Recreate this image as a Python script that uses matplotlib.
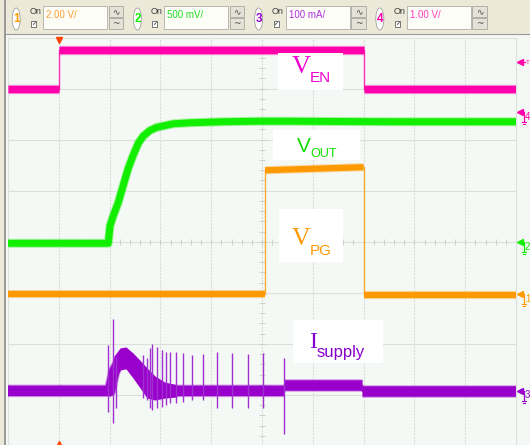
import matplotlib
matplotlib.use('Agg')
import matplotlib.pyplot as plt
from matplotlib.patches import Rectangle, Ellipse
import numpy as np

# scope screen: 10 x 8 divisions, all trace values below are in divisions
en_t = [0, 1.0, 1.0, 7.0, 7.0, 10.0]
en_v = [6.99, 6.99, 7.76, 7.76, 6.99, 6.99]

out_t = [0, 1.974, 2.008, 2.073, 2.171, 2.270, 2.368, 2.467, 2.565, 2.663, 2.795,
         2.927, 3.254, 3.583, 4.238, 4.896, 5.551, 7.5, 10.0]
out_v = [3.97, 3.97, 4.31, 4.51, 4.77, 5.11, 5.44, 5.70, 5.93, 6.07, 6.18,
         6.24, 6.31, 6.33, 6.35, 6.36, 6.36, 6.35, 6.35]

pg_t = [0, 5.06, 5.06, 7.0, 7.0, 10.0]
pg_v = [2.98, 2.98, 5.40, 5.46, 2.96, 2.96]

isup_t = [0, 2.008, 2.087, 2.205, 2.323, 2.461, 2.598, 2.795, 2.992, 3.287,
          5.433, 5.433, 6.969, 6.969, 10.0]
isup_v = [1.08, 1.08, 1.45, 1.68, 1.72, 1.57, 1.37, 1.20, 1.10, 1.08,
          1.08, 1.19, 1.19, 1.08, 1.08]

hump_t = [2.01, 2.087, 2.205, 2.323, 2.461, 2.598, 2.736, 2.894, 3.091, 3.327]
hump_hi = [1.20, 1.76, 1.92, 1.94, 1.82, 1.68, 1.53, 1.37, 1.25, 1.20]
hump_lo = [0.96, 1.20, 1.49, 1.51, 1.33, 1.14, 0.94, 0.90, 0.94, 0.96]

spike_t = [1.974, 2.061, 2.126, 2.663, 2.730, 2.795, 2.841, 2.927, 3.026, 3.110,
           3.189, 3.301, 3.439, 3.616, 3.844, 4.108, 4.404, 4.719, 5.026, 5.439]
spike_hi = [1.98, 2.48, 1.74, 1.78, 1.72, 1.92, 2.00, 1.94, 1.88, 1.84,
            1.84, 1.84, 1.82, 1.78, 1.80, 1.84, 1.82, 1.80, 1.82, 1.72]
spike_lo = [0.67, 0.46, 0.74, 0.94, 0.90, 0.74, 0.71, 0.74, 0.76, 0.80,
            0.84, 0.84, 0.86, 0.90, 0.90, 0.74, 0.74, 0.74, 0.74, 0.24]

channels = ['1', '2', '3', '4']
scales = ['2.00 V/', '500 mV/', '100 mA/', '1.00 V/']
ch_colors = ['#ff9900', '#11ee00', '#9900cc', '#ff00aa']
text_colors = ['#ffa030', '#22dd22', '#b030e0', '#ff40c0']

SANS = 'Liberation Sans'
SERIF = 'Liberation Serif'

fig = plt.figure(figsize=(5.3, 4.45), dpi=100)
fig.patch.set_facecolor('#ece9d8')

# background layer in pixel coords (toolbar + panel)
bg = fig.add_axes([0, 0, 1, 1], zorder=0)
bg.set_xlim(0, 530)
bg.set_ylim(445, 0)
bg.axis('off')
bg.add_patch(Rectangle((5, 34), 525, 411, fc='#f4f8f5', ec='none'))
bg.plot([5, 530], [34, 34], color='#9a9a9a', lw=0.8)
bg.plot([4.5, 4.5], [0, 445], color='#8a8a8a', lw=1.2)

for i in range(4):
    c = 16.2 + 121.2 * i
    bg.add_patch(Ellipse((c, 19), 8, 22, fc='white', ec='#a0a0a0', lw=0.6))
    bg.text(c, 19.5, channels[i], color=ch_colors[i], fontsize=8.5, fontweight='bold',
            family=SANS, ha='center', va='center')
    bg.text(c + 13.5, 11, 'On', color='#404040', fontsize=6.5, family=SANS,
            ha='left', va='center')
    bg.add_patch(Rectangle((c + 15, 21), 5, 6, fc='white', ec='#606060', lw=0.6))
    bg.text(c + 17.5, 24, '\u2713', color='#202020', fontsize=4.5, ha='center', va='center')
    bg.add_patch(Rectangle((c + 27, 6), 64, 23, fc='#fdfdf8', ec='#b8b8b0', lw=0.7))
    bg.text(c + 30, 15, scales[i], color=text_colors[i], fontsize=7, family=SANS,
            ha='left', va='center')
    for k, g in enumerate(['\u223f', '~']):
        bg.add_patch(Rectangle((c + 92.5, 6 + 12 * k), 14.5, 11, fc='#e4e2d6',
                               ec='#a8a8a0', lw=0.6))
        bg.text(c + 99.7, 11.5 + 12 * k, g, color='#505050', fontsize=6.5,
                ha='center', va='center')

# scope screen
ax = fig.add_axes([8 / 530, 0, 508 / 530, 407.5 / 445], zorder=1)
ax.set_xlim(0, 10)
ax.set_ylim(0.0196, 8.0)
ax.set_facecolor('#f5f9f6')
for s in ax.spines.values():
    s.set_color('#dde2df')
    s.set_linewidth(0.8)
ax.set_xticks([])
ax.set_yticks([])

for gx in range(1, 10):
    ax.axvline(gx, color='#dadedb', lw=0.8, ls=(0, (2, 1)), zorder=0)
for gy in range(1, 8):
    ax.axhline(gy, color='#dce0dd', lw=0.8, zorder=0)
tx = np.arange(0.2, 10, 0.2)
ax.plot(tx, np.full_like(tx, 4.0), ls='none', marker='|', ms=4, mew=0.6, color='#c8ccc9', zorder=0)
ty = np.arange(0.2, 8, 0.2)
ax.plot(np.full_like(ty, 5.0), ty, ls='none', marker='_', ms=4, mew=0.6, color='#c8ccc9', zorder=0)


def trace(t, v, color, lw, z):
    t = np.asarray(t, float)
    v = np.asarray(v, float)
    run = [0]
    for j in range(1, len(t)):
        if t[j] == t[j - 1]:
            ax.plot(t[j - 1:j + 1], v[j - 1:j + 1], color=color, lw=1.0, alpha=0.8, zorder=z)
            if len(run) > 1:
                ax.plot(t[run], v[run], color=color, lw=lw + 1.5, alpha=0.35,
                        solid_capstyle='butt', zorder=z)
                ax.plot(t[run], v[run], color=color, lw=lw,
                        solid_capstyle='butt', solid_joinstyle='round', zorder=z)
            run = [j]
        else:
            run.append(j)
    if len(run) > 1:
        ax.plot(t[run], v[run], color=color, lw=lw + 1.5, alpha=0.35,
                solid_capstyle='butt', zorder=z)
        ax.plot(t[run], v[run], color=color, lw=lw,
                solid_capstyle='butt', solid_joinstyle='round', zorder=z)


trace(en_t, en_v, ch_colors[3], 5.3, 3)
trace(out_t, out_v, ch_colors[1], 5.0, 3)
trace(pg_t, pg_v, ch_colors[0], 4.4, 3)
trace(isup_t, isup_v, ch_colors[2], 7.6, 3)
ax.fill_between(hump_t, hump_lo, hump_hi, color=ch_colors[2], lw=0, zorder=3)
ax.vlines(spike_t, spike_lo, spike_hi, color='#a030d0', lw=1.0, zorder=3)

# overlay: labels and side markers in pixel coords
top = fig.add_axes([0, 0, 1, 1], zorder=2)
top.set_xlim(0, 530)
top.set_ylim(445, 0)
top.axis('off')
top.patch.set_alpha(0)

labels = [
    ((278, 53, 343, 90), 'V', 292, 73, SERIF, 19, 'EN', 310, 82, 11, '#f000d0'),
    ((273, 130, 360, 160), 'V', 297, 152, SANS, 15, 'OUT', 310, 157, 9, '#11dd00'),
    ((279, 209, 343, 262), 'V', 292, 245, SERIF, 18.5, 'PG', 310, 255, 11, '#ff9900'),
    ((293, 320, 383, 363), 'I', 309, 348, SERIF, 17.5, 'supply', 317, 357.5, 12, '#8800cc'),
]
for (x0, y0, x1, y1), m, mx, my, mf, ms, sub, sx, sy, ss, col in labels:
    top.add_patch(Rectangle((x0, y0), x1 - x0, y1 - y0, fc='white', ec='none'))
    top.text(mx, my, m, color=col, family=mf, fontsize=ms, ha='left', va='baseline')
    top.text(sx, sy, sub, color=col, family=SANS, fontsize=ss, ha='left', va='baseline')

# trigger markers
top.plot([59], [39.5], marker='v', ms=5, color='#ff4400', ls='none')
top.plot([59], [444], marker='^', ms=4, color='#ff4400', ls='none')
top.plot([519.5], [62], marker='<', ms=4, color='#ff00aa', ls='none')
top.plot([520, 524.5], [62, 62], color='#ff00aa', lw=0.9)
top.text(525.5, 63, 'T', color='#ff00aa', fontsize=4.5, family=SANS, va='center')

# ground markers
marks = [(294, '1', ch_colors[0]), (242, '2', ch_colors[1]),
         (391, '3', ch_colors[2]), (112, '4', ch_colors[3])]
for y0, d, col in marks:
    top.plot([519.5], [y0], marker='<', ms=4, color=col, ls='none')
    top.plot([520, 523.5, 523.5], [y0, y0, y0 + 10], color=col, lw=0.9)
    top.plot([521.5, 525.5], [y0 + 10, y0 + 10], color=col, lw=0.8)
    top.plot([522.5, 524.5], [y0 + 12, y0 + 12], color=col, lw=0.8)
    top.text(525, y0 + 4.5, d, color=col, fontsize=7, family=SANS, ha='left', va='center')

fig.savefig('out.png', dpi=100, facecolor=fig.get_facecolor())
